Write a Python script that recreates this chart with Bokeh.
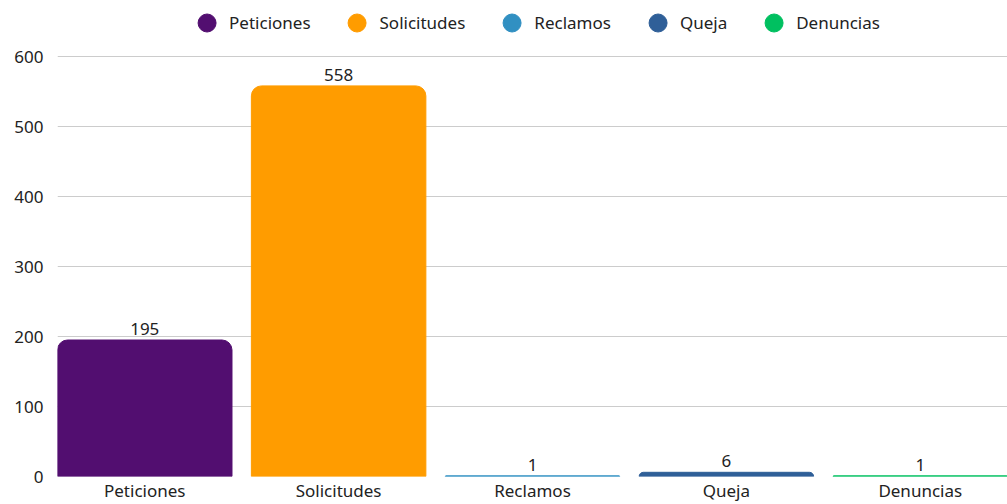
from bokeh.plotting import figure
from bokeh.models import ColumnDataSource, FactorRange, Range1d, Legend, LegendItem, FixedTicker
from bokeh.core.properties import value
from bokeh.embed import file_html
from bokeh.resources import INLINE

categories = ["Peticiones", "Solicitudes", "Reclamos", "Queja", "Denuncias"]
counts = [195, 558, 1, 6, 1]
colors = ["#520e70", "#ff9c00", "#3190c2", "#2f5f98", "#00c060"]
y_ticks = [0, 100, 200, 300, 400, 500, 600]

FONT = "Noto Sans"
TXT = "#222222"

src = ColumnDataSource(dict(cat=categories, val=counts, color=colors,
                            lbl=[str(v) for v in counts]))

xr = FactorRange(*categories, range_padding=-0.05, range_padding_units="absolute")

p = figure(width=1007, height=504, x_range=xr,
           y_range=Range1d(0, 680), output_backend="svg", toolbar_location=None,
           min_border_left=57, min_border_right=0, min_border_top=0, min_border_bottom=0)
p.outline_line_color = None
p.background_fill_color = "white"
p.border_fill_color = "white"

p.vbar(x="cat", top="val", width=0.9, color="color", source=src,
       border_radius=dict(top_left=10, top_right=10, bottom_right=0, bottom_left=0))
p.text(x="cat", y="val", text="lbl", source=src, text_align="center", text_baseline="bottom",
       y_offset=-5, text_font=value(FONT), text_font_size="17px", text_color=TXT)

# axes
p.xaxis.axis_line_color = None
p.xaxis.major_tick_line_color = None
p.xaxis.minor_tick_line_color = None
p.xaxis.major_tick_out = 0
p.xaxis.major_tick_in = 0
p.xaxis.major_label_standoff = 2
p.xaxis.major_label_text_font = FONT
p.xaxis.major_label_text_font_size = "17px"
p.xaxis.major_label_text_color = TXT
p.xgrid.grid_line_color = None

p.yaxis.ticker = FixedTicker(ticks=y_ticks)
p.yaxis.axis_line_color = None
p.yaxis.major_tick_line_color = None
p.yaxis.minor_tick_line_color = None
p.yaxis.major_tick_out = 0
p.yaxis.major_tick_in = 0
p.yaxis.major_label_standoff = 14
p.yaxis.major_label_text_font = FONT
p.yaxis.major_label_text_font_size = "17px"
p.yaxis.major_label_text_color = TXT
p.ygrid.grid_line_color = "#cccccc"
p.ygrid.grid_line_width = 1

# legend
items = []
for c, col in zip(categories, colors):
    r = p.scatter(x=[categories[0]], y=[-1000], marker="circle", size=18, color=col)
    items.append(LegendItem(label=c, renderers=[r]))
legend = Legend(items=items, orientation="horizontal", location="top_center",
                label_text_font=FONT, label_text_font_size="17px", label_text_color=TXT,
                border_line_color=None, background_fill_alpha=0,
                padding=0, margin=0, spacing=24, glyph_width=45, glyph_height=45,
                label_standoff=0)
p.add_layout(legend)

open("out.html", "w").write(file_html(p, INLINE))
